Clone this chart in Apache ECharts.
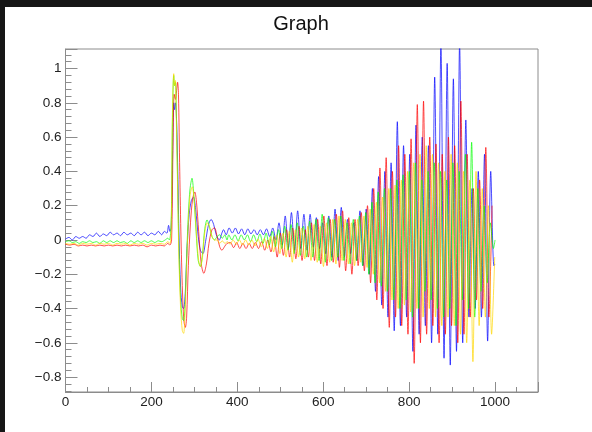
<!DOCTYPE html>
<html><head><meta charset="utf-8">
<script src="https://cdn.jsdelivr.net/npm/echarts@6/dist/echarts.min.js"></script>
<style>html,body{margin:0;padding:0;background:#fff;}#c{width:592px;height:432px;}</style>
</head><body><div id="c"></div>
<script>
// ---- data ----
const HALF = 7.25; // half period of the late oscillation (x units)
const xTicks = [0, 200, 400, 600, 800, 1000];

const blueHead = [[0,0.005],[8,0.015],[16,0.0],[24,0.02],[32,0.01],[40,0.02],[48,0.01],[56,0.03],[64,0.02],[72,0.04],[80,0.02],[88,0.035],[96,0.025],[104,0.045],[112,0.03],[120,0.04],[128,0.025],[136,0.045],[144,0.03],[152,0.04],[160,0.025],[168,0.045],[176,0.03],[184,0.045],[192,0.025],[200,0.04],[208,0.03],[216,0.05],[224,0.03],[230,0.05],[236,0.04],[240,0.085],[243,0.05],[246,0.07],[249,0.45],[252,0.80],[254,0.76],[256,0.80],[258,0.74],[261,0.45],[264,0.05],[268,-0.28],[272,-0.39],[275,-0.40],[279,-0.30],[283,-0.05],[288,0.15],[293,0.23],[298,0.25],[303,0.18],[309,0.02],[314,-0.06],[320,-0.08],[326,-0.01],[333,0.09],[339,0.12],[345,0.09],[351,0.03],[358,0.0],[364,0.04],[368,0.06],[374,0.03]];
const blueStart = 381;
const blueWave = [0.07,0.04,0.07,0.035,0.065,0.03,0.065,0.035,0.06,0.03,0.06,0.03,0.065,0.02,0.07,0.0,0.10,-0.03,0.14,-0.05,0.16,-0.06,0.17,-0.05,0.15,-0.06,0.15,-0.04,0.13,-0.05,0.10,-0.08,0.14,-0.10,0.18,-0.12,0.19,-0.10,0.12,-0.08,0.10,-0.12,0.17,-0.15,0.18,-0.20,0.30,-0.30,0.37,-0.38,0.40,-0.45,0.45,-0.53,0.69,-0.50,0.55,-0.45,0.50,-0.65,0.67,-0.55,0.60,-0.50,0.55,-0.60,0.95,-0.55,1.15,-0.69,1.03,-0.73,0.94,-0.65,1.15,-0.60,0.70,-0.45,0.30,-0.40,0.40,-0.45,0.50,-0.59,0.40,-0.15];
const blueTail = [[1000,-0.14]];

const redHead = [[0,-0.025],[10,-0.03],[20,-0.025],[30,-0.035],[40,-0.03],[50,-0.035],[60,-0.03],[70,-0.035],[80,-0.03],[90,-0.035],[100,-0.03],[110,-0.035],[120,-0.03],[130,-0.035],[140,-0.03],[150,-0.035],[160,-0.03],[170,-0.035],[180,-0.03],[190,-0.04],[200,-0.03],[210,-0.035],[220,-0.03],[230,-0.035],[238,-0.02],[243,-0.03],[247,0.0],[250,0.5],[253,0.85],[256,0.82],[259,0.88],[261,0.92],[263,0.85],[266,0.4],[269,0.0],[273,-0.35],[276,-0.48],[279,-0.51],[282,-0.45],[286,-0.15],[291,0.1],[296,0.24],[301,0.28],[305,0.22],[310,0.05],[316,-0.14],[322,-0.195],[328,-0.14],[334,-0.02],[341,0.06],[347,0.07],[353,0.02],[359,-0.04],[364,-0.06],[370,-0.04],[376,-0.02]];
const redStart = 384;
const redWave = [-0.015,-0.045,-0.015,-0.05,-0.02,-0.05,-0.02,-0.05,-0.015,-0.05,-0.01,-0.06,0.0,-0.07,0.02,-0.10,0.04,-0.09,0.06,-0.10,0.07,-0.11,0.08,-0.12,0.06,-0.10,0.10,-0.12,0.12,-0.14,0.14,-0.15,0.12,-0.13,0.15,-0.16,0.17,-0.18,0.13,-0.20,0.12,-0.15,0.16,-0.18,0.20,-0.25,0.30,-0.35,0.42,-0.40,0.48,-0.51,0.40,-0.45,0.55,-0.50,0.50,-0.55,0.59,-0.72,0.79,-0.60,0.81,-0.55,0.60,-0.50,0.56,-0.60,0.50,-0.55,0.60,-0.50,0.55,-0.60,0.81,-0.55,0.50,-0.45,0.30,-0.35,0.35,-0.40,0.54,-0.45,0.20,0.05];
const redTail = [];

const greenHead = [[0,-0.01],[8,-0.005],[16,-0.015],[24,-0.01],[32,-0.02],[40,-0.01],[48,-0.015],[56,-0.005],[64,-0.015],[72,-0.01],[80,-0.02],[88,-0.005],[96,-0.015],[104,-0.005],[112,-0.015],[120,-0.005],[128,-0.015],[136,-0.01],[144,-0.02],[152,-0.005],[160,-0.015],[168,-0.005],[176,-0.015],[184,-0.005],[192,-0.015],[200,-0.005],[208,-0.015],[216,-0.005],[224,-0.01],[232,0.0],[238,0.01],[242,0.0],[246,0.1],[249,0.7],[252,0.96],[254,0.9],[256,0.92],[258,0.75],[261,0.35],[264,-0.05],[268,-0.35],[272,-0.46],[275,-0.47],[278,-0.4],[282,-0.1],[286,0.15],[290,0.3],[294.5,0.36],[299,0.25],[304,0.05],[309,-0.12],[314,-0.155],[319,-0.08],[324,0.06],[329.5,0.117],[335,0.08],[341,0.02],[347,0.0],[353,0.02],[359,0.03],[365,0.01],[371,0.03],[376,0.0]];
const greenStart = 380;
const greenWave = [0.03,0.0,0.03,-0.005,0.03,0.0,0.03,-0.01,0.03,-0.01,0.035,-0.02,0.04,-0.03,0.05,-0.04,0.06,-0.05,0.08,-0.06,0.09,-0.08,0.10,-0.09,0.08,-0.10,0.11,-0.10,0.12,-0.12,0.15,-0.13,0.13,-0.12,0.12,-0.10,0.14,-0.12,0.10,-0.14,0.12,-0.12,0.14,-0.15,0.16,-0.20,0.22,-0.25,0.28,-0.27,0.30,-0.30,0.30,-0.35,0.35,-0.40,0.38,-0.35,0.40,-0.45,0.45,-0.40,0.35,-0.30,0.40,-0.35,0.45,-0.40,0.40,-0.45,0.35,-0.40,0.45,-0.50,0.40,-0.35,0.50,-0.40,0.57,-0.45,0.30,-0.30,0.20,-0.25,0.10,-0.05];
const greenTail = [[1000,0.0]];

const yellowHead = [[0,-0.02],[10,-0.025],[20,-0.02],[30,-0.03],[40,-0.02],[50,-0.025],[60,-0.02],[70,-0.03],[80,-0.02],[90,-0.025],[100,-0.02],[110,-0.03],[120,-0.02],[130,-0.025],[140,-0.02],[150,-0.03],[160,-0.02],[170,-0.025],[180,-0.02],[190,-0.03],[200,-0.02],[210,-0.025],[220,-0.02],[230,-0.025],[238,-0.01],[243,-0.02],[246,0.05],[249,0.75],[252,0.97],[254,0.9],[256,0.93],[258,0.7],[261,0.3],[264,-0.1],[268,-0.4],[272,-0.53],[275,-0.545],[278,-0.45],[282,-0.15],[286,0.1],[290,0.26],[295,0.31],[300,0.22],[305,0.03],[310,-0.12],[314,-0.155],[319,-0.1],[324,0.04],[330,0.10],[336,0.07],[341,0.02],[347,0.0],[353,0.0],[359,-0.02],[365,-0.005],[371,-0.02],[377,-0.01]];
const yellowStart = 383;
const yellowWave = [-0.025,0.0,-0.025,0.0,-0.03,0.0,-0.03,0.0,-0.035,0.005,-0.04,0.01,-0.05,0.02,-0.07,0.03,-0.08,0.04,-0.10,0.05,-0.13,0.06,-0.10,0.07,-0.11,0.08,-0.12,0.09,-0.13,0.08,-0.155,0.10,-0.13,0.12,-0.14,0.14,-0.12,0.12,-0.14,0.10,-0.15,0.12,-0.13,0.14,-0.16,0.18,-0.20,0.22,-0.25,0.25,-0.30,0.30,-0.35,0.32,-0.40,0.35,-0.38,0.40,-0.42,0.45,-0.40,0.50,-0.45,0.55,-0.40,0.50,-0.45,0.45,-0.50,0.40,-0.45,0.50,-0.50,0.45,-0.55,0.40,-0.60,0.35,-0.71,0.40,-0.50,0.30,-0.45,0.20,-0.55,-0.10];
const yellowTail = [];

// ---- build ----
function build(head, start, wave, tail) {
  const out = head.slice();
  wave.forEach((v, i) => out.push([start + i * HALF, v]));
  return out.concat(tail).filter(p => p[0] <= 1000);
}
const seriesDefs = [
  { name: 'blue', color: '#0000ff', data: build(blueHead, blueStart, blueWave, blueTail) },
  { name: 'red', color: '#ff0000', data: build(redHead, redStart, redWave, redTail) },
  { name: 'green', color: '#00ff00', data: build(greenHead, greenStart, greenWave, greenTail) },
  { name: 'yellow', color: '#ffd700', data: build(yellowHead, yellowStart, yellowWave, yellowTail) }
];

const chart = echarts.init(document.getElementById('c'), null, { renderer: 'canvas' });
const FONT = '"Liberation Sans", Helvetica, Arial, sans-serif';
const AX = '#8c8c8c';
chart.setOption({
  animation: false,
  backgroundColor: '#ffffff',
  graphic: [
    { type: 'rect', shape: { x: 0, y: 0, width: 592, height: 7 }, style: { fill: '#161616' }, silent: true },
    { type: 'rect', shape: { x: 0, y: 0, width: 5, height: 432 }, style: { fill: '#161616' }, silent: true },
    { type: 'text', x: 301, y: 24, style: { text: 'Graph', fill: '#111', font: '20px ' + FONT, textAlign: 'center', textVerticalAlign: 'middle' }, silent: true }
  ],
  grid: { left: 65.5, right: 54, top: 49, bottom: 40, show: true, borderColor: AX, borderWidth: 1, backgroundColor: 'transparent' },
  xAxis: {
    type: 'value', min: 0, max: 1100, interval: 200,
    axisLine: { show: true, onZero: false, lineStyle: { color: AX } },
    axisTick: { show: true, inside: true, length: 10, lineStyle: { color: AX } },
    minorTick: { show: true, splitNumber: 4, length: 5, lineStyle: { color: AX } },
    splitLine: { show: false },
    axisLabel: { show: true, showMaxLabel: false, margin: 3, color: '#222', fontSize: 13.5, fontFamily: FONT,
      formatter: v => (xTicks.indexOf(v) >= 0 ? String(v) : '') }
  },
  yAxis: {
    type: 'value', min: -0.887, max: 1.114, splitNumber: 10,
    axisLine: { show: true, onZero: false, lineStyle: { color: AX } },
    axisTick: { show: true, inside: true, length: 12, lineStyle: { color: AX } },
    minorTick: { show: true, splitNumber: 5, length: 6, lineStyle: { color: AX } },
    splitLine: { show: false },
    axisLabel: { show: true, showMinLabel: false, showMaxLabel: false, margin: 4, color: '#222', fontSize: 13.5, fontFamily: FONT,
      formatter: v => { const r = Math.round(v * 10) / 10; return (r < 0 ? '\u2212' : '') + String(Math.abs(r)); } }
  },
  series: seriesDefs.map(s => ({
    name: s.name, type: 'line', data: s.data, showSymbol: false, symbol: 'none', smooth: 0.3,
    clip: true, lineStyle: { color: s.color, width: 1, opacity: 0.7 }, itemStyle: { color: s.color },
    emphasis: { disabled: true }
  }))
});
</script></body></html>
